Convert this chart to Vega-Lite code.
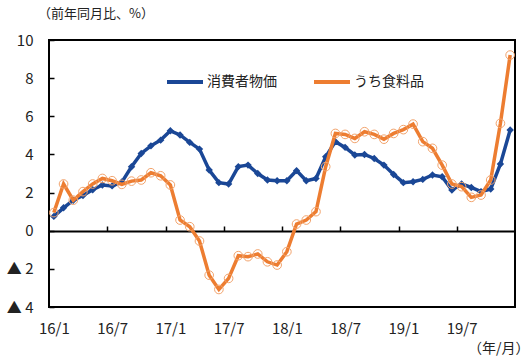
{
  "$schema": "https://vega.github.io/schema/vega-lite/v6.json",
  "autosize": "none",
  "width": 466,
  "height": 267,
  "padding": {"left": 49, "top": 40, "right": 15, "bottom": 54},
  "background": "white",
  "config": {
    "font": "Noto Sans CJK JP",
    "view": {"stroke": "black", "strokeWidth": 2},
    "axis": {"grid": false, "labelColor": "#222222", "labelFont": "Noto Sans CJK JP"},
    "axisY": {
      "values": [-4, -2, 0, 2, 4, 6, 8, 10],
      "labelExpr": "datum.value < 0 ? '▲  ' + (-datum.value) : '' + datum.value",
      "tickSize": -5,
      "tickColor": "black",
      "tickWidth": 1.5,
      "domain": false,
      "labelPadding": 21,
      "labelFontSize": 15,
      "title": null
    }
  },
  "title": {
    "text": "（前年同月比、%）",
    "anchor": "start",
    "frame": "group",
    "dx": -11,
    "offset": 12,
    "fontSize": 13,
    "fontWeight": "normal",
    "color": "#222222"
  },
  "data": {
    "values": [
      {"idx": 0, "month": "2016-01", "cpi": 0.75, "food": 0.95},
      {"idx": 1, "month": "2016-02", "cpi": 1.2, "food": 2.45},
      {"idx": 2, "month": "2016-03", "cpi": 1.6, "food": 1.6},
      {"idx": 3, "month": "2016-04", "cpi": 1.85, "food": 2.05},
      {"idx": 4, "month": "2016-05", "cpi": 2.15, "food": 2.45},
      {"idx": 5, "month": "2016-06", "cpi": 2.4, "food": 2.74},
      {"idx": 6, "month": "2016-07", "cpi": 2.35, "food": 2.62},
      {"idx": 7, "month": "2016-08", "cpi": 2.55, "food": 2.43},
      {"idx": 8, "month": "2016-09", "cpi": 3.35, "food": 2.6},
      {"idx": 9, "month": "2016-10", "cpi": 4.05, "food": 2.66},
      {"idx": 10, "month": "2016-11", "cpi": 4.45, "food": 3.04},
      {"idx": 11, "month": "2016-12", "cpi": 4.75, "food": 2.88},
      {"idx": 12, "month": "2017-01", "cpi": 5.24, "food": 2.4},
      {"idx": 13, "month": "2017-02", "cpi": 5.02, "food": 0.56},
      {"idx": 14, "month": "2017-03", "cpi": 4.63, "food": 0.21},
      {"idx": 15, "month": "2017-04", "cpi": 4.28, "food": -0.54},
      {"idx": 16, "month": "2017-05", "cpi": 3.18, "food": -2.33},
      {"idx": 17, "month": "2017-06", "cpi": 2.52, "food": -3.08},
      {"idx": 18, "month": "2017-07", "cpi": 2.45, "food": -2.5},
      {"idx": 19, "month": "2017-08", "cpi": 3.36, "food": -1.31},
      {"idx": 20, "month": "2017-09", "cpi": 3.44, "food": -1.36},
      {"idx": 21, "month": "2017-10", "cpi": 3.0, "food": -1.22},
      {"idx": 22, "month": "2017-11", "cpi": 2.66, "food": -1.63},
      {"idx": 23, "month": "2017-12", "cpi": 2.62, "food": -1.8},
      {"idx": 24, "month": "2018-01", "cpi": 2.62, "food": -1.1},
      {"idx": 25, "month": "2018-02", "cpi": 3.15, "food": 0.35},
      {"idx": 26, "month": "2018-03", "cpi": 2.62, "food": 0.56},
      {"idx": 27, "month": "2018-04", "cpi": 2.74, "food": 1.0},
      {"idx": 28, "month": "2018-05", "cpi": 3.88, "food": 3.36},
      {"idx": 29, "month": "2018-06", "cpi": 4.67, "food": 5.1},
      {"idx": 30, "month": "2018-07", "cpi": 4.37, "food": 5.05},
      {"idx": 31, "month": "2018-08", "cpi": 3.97, "food": 4.84},
      {"idx": 32, "month": "2018-09", "cpi": 4.0, "food": 5.19},
      {"idx": 33, "month": "2018-10", "cpi": 3.79, "food": 5.05},
      {"idx": 34, "month": "2018-11", "cpi": 3.44, "food": 4.8},
      {"idx": 35, "month": "2018-12", "cpi": 2.95, "food": 5.1},
      {"idx": 36, "month": "2019-01", "cpi": 2.52, "food": 5.3},
      {"idx": 37, "month": "2019-02", "cpi": 2.57, "food": 5.59},
      {"idx": 38, "month": "2019-03", "cpi": 2.69, "food": 4.67},
      {"idx": 39, "month": "2019-04", "cpi": 2.92, "food": 4.32},
      {"idx": 40, "month": "2019-05", "cpi": 2.83, "food": 3.44},
      {"idx": 41, "month": "2019-06", "cpi": 2.13, "food": 2.45},
      {"idx": 42, "month": "2019-07", "cpi": 2.45, "food": 2.31},
      {"idx": 43, "month": "2019-08", "cpi": 2.27, "food": 1.75},
      {"idx": 44, "month": "2019-09", "cpi": 2.05, "food": 1.87},
      {"idx": 45, "month": "2019-10", "cpi": 2.19, "food": 2.66},
      {"idx": 46, "month": "2019-11", "cpi": 3.5, "food": 5.63},
      {"idx": 47, "month": "2019-12", "cpi": 5.28, "food": 9.21}
    ]
  },
  "resolve": {"axis": {"x": "independent"}},
  "layer": [
    {
      "mark": {"type": "line", "strokeWidth": 3.5},
      "encoding": {
        "x": {
          "field": "idx", "type": "quantitative",
          "scale": {"domain": [-0.5, 47.5], "nice": false, "zero": false},
          "axis": {
            "orient": "bottom",
            "values": [0, 6, 12, 18, 24, 30, 36, 42],
            "labelExpr": "['16/1','16/7','17/1','17/7','18/1','18/7','19/1','19/7'][round(datum.value/6)]",
            "ticks": false,
            "domain": false,
            "labelPadding": 14,
            "labelFontSize": 15,
            "title": "（年/月）",
            "titleX": 480,
            "titleY": 41,
            "titleAlign": "right",
            "titleBaseline": "middle",
            "titleFontSize": 14,
            "titleFontWeight": "normal",
            "titleColor": "#222222"
          }
        },
        "y": {"field": "cpi", "type": "quantitative", "scale": {"domain": [-4, 10], "nice": false, "zero": false}, "title": null},
        "color": {
          "datum": "消費者物価",
          "type": "nominal",
          "scale": {"domain": ["消費者物価", "うち食料品"], "range": ["#1A4796", "#ED7D31"]},
          "legend": {
            "orient": "none",
            "legendX": 116,
            "legendY": 22,
            "direction": "horizontal",
            "title": null,
            "symbolType": "stroke",
            "symbolStrokeWidth": 4,
            "symbolSize": 1296,
            "labelFontSize": 14,
            "labelColor": "#222222",
            "labelOffset": 2,
            "columnPadding": 29
          }
        }
      }
    },
    {
      "mark": {"type": "point", "shape": "diamond", "filled": true, "color": "#1A4796", "opacity": 1, "size": 55},
      "encoding": {
        "x": {"field": "idx", "type": "quantitative", "axis": null},
        "y": {"field": "cpi", "type": "quantitative", "title": null}
      }
    },
    {
      "mark": {"type": "line", "strokeWidth": 3.5},
      "encoding": {
        "x": {
          "field": "idx", "type": "quantitative",
          "axis": {
            "orient": "bottom",
            "values": [5.5, 11.5, 17.5, 23.5, 29.5, 35.5, 41.5],
            "labels": false,
            "ticks": true,
            "tickSize": -5,
            "tickWidth": 1.5,
            "tickColor": "black",
            "domain": true,
            "domainColor": "black",
            "domainWidth": 2,
            "offset": -76,
            "title": null
          }
        },
        "y": {"field": "food", "type": "quantitative", "title": null},
        "color": {"datum": "うち食料品", "type": "nominal"}
      }
    },
    {
      "mark": {"type": "point", "shape": "circle", "filled": false, "color": "#F2A36C", "strokeWidth": 1, "opacity": 1, "size": 75},
      "encoding": {
        "x": {"field": "idx", "type": "quantitative", "axis": null},
        "y": {"field": "food", "type": "quantitative", "title": null}
      }
    }
  ]
}
